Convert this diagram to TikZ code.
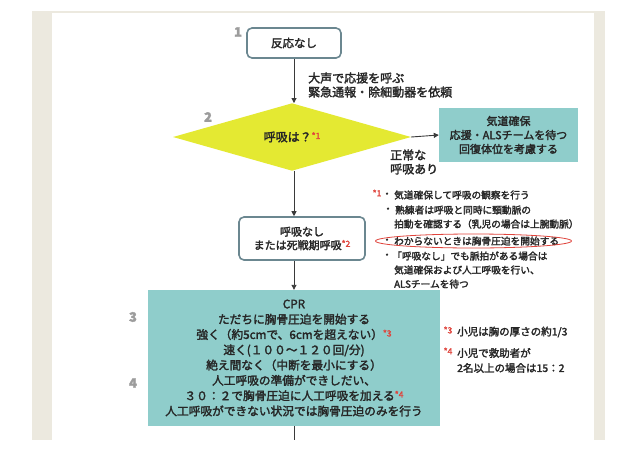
\documentclass[tikz,border=0pt]{standalone}
\usepackage{fontspec}
\setmainfont[FakeBold=2.2]{Noto Sans CJK JP}
\usetikzlibrary{arrows.meta,shapes.geometric}
\definecolor{txt}{HTML}{262626}
\definecolor{frameb}{HTML}{ECE9DF}
\definecolor{boxteal}{HTML}{8FCDCB}
\definecolor{yel}{HTML}{E4E932}
\definecolor{bord}{HTML}{6B8790}
\definecolor{numgray}{HTML}{9C9C9C}
\definecolor{notered}{HTML}{E0443C}
\definecolor{arr}{HTML}{3A3A3A}
\newcommand\mk[1]{\raisebox{2.5pt}{\textcolor{notered}{\fontsize{8.5}{8.5}\selectfont *#1}}}
\begin{document}
\begin{tikzpicture}[x=1pt,y=-1pt,
  rbox/.style={draw=bord, line width=1.6pt, rounded corners=5pt, fill=white, text=txt, align=center, inner sep=0pt},
  tbox/.style={fill=boxteal, text=txt, align=center, inner sep=0pt},
  conn/.style={draw=arr, line width=0.9pt, -{Triangle[width=5pt,length=5pt]}},
  plainline/.style={draw=arr, line width=0.9pt},
  num/.style={text=numgray, inner sep=0pt, font=\fontsize{13}{13}\selectfont\bfseries},
  note/.style={anchor=west, inner sep=0pt, text=txt, font=\fontsize{9.7}{10}\selectfont},
  bignote/.style={anchor=west, inner sep=0pt, text=txt, font=\fontsize{10.5}{11}\selectfont},
  bul/.style={inner sep=0pt, text=txt, font=\fontsize{9.7}{10}\selectfont},
  rmark/.style={inner sep=0pt, text=notered, font=\fontsize{8.5}{8.5}\selectfont}]
\useasboundingbox (0,0) rectangle (638,451);
\fill[white] (0,0) rectangle (638,451);
% frame
\fill[frameb] (32,11) rectangle (605,440);
\fill[white] (52,13) rectangle (594,440);

% step 1
\node[rbox, minimum width=94pt, minimum height=30pt, font=\fontsize{11.5}{12}\selectfont] (n1) at (294,43) {反応なし};
\node[num] (l1) at (238,32) {1};
\node[anchor=west, align=left, text=txt, inner sep=0pt, font=\fontsize{12}{14}\selectfont] (call) at (308,85) {大声で応援を呼ぶ\\緊急通報・除細動器を依頼};

% step 2 diamond
\node[diamond, fill=yel, minimum width=238pt, minimum height=60pt, inner sep=0pt, text=txt, font=\fontsize{12}{12}\selectfont] (d) at (292,137) {呼吸は？\mk{1}};
\node[num] (l2) at (208,117) {2};
\node[tbox, minimum width=139pt, minimum height=54pt, font=\fontsize{11}{14}\selectfont] (t) at (508.5,135) {気道確保\\応援・ALSチームを待つ\\回復体位を考慮する};
\node[anchor=west, align=left, text=txt, inner sep=0pt, font=\fontsize{12}{14}\selectfont] (norm) at (390,162) {正常な\\呼吸あり};

% no breathing box
\node[rbox, minimum width=126pt, minimum height=43pt, font=\fontsize{11}{13.5}\selectfont] (n2) at (302,238.5) {呼吸なし\\または死戦期呼吸\mk{2}};

% CPR box
\node[tbox, minimum width=292pt, minimum height=136pt, font=\fontsize{11.7}{15.3}\selectfont] (c) at (294,358) {CPR\\ただちに胸骨圧迫を開始する\\強く（約5cmで、6cmを超えない）\mk{3}\\速く(１００～１２０回/分)\\絶え間なく（中断を最小にする）\\人工呼吸の準備ができしだい、\\３０：２で胸骨圧迫に人工呼吸を加える\mk{4}\\人工呼吸ができない状況では胸骨圧迫のみを行う};
\node[num] (l3) at (133,317) {3};
\node[num] (l4) at (133,383) {4};
\coordinate (bot) at (294,440);

% connectors
\draw[conn] (n1.south) -- (n1.south |- d.north);
\draw[conn] (d.east) -- (t.west);
\draw[conn] (n1.south |- d.south) -- (n1.south |- n2.north);
\draw[conn] (n1.south |- n2.south) -- (c.north);
\draw[plainline] (c.south) -- (bot);

% notes *1
\node[rmark] (m1) at (377,193) {*1};
\node[bul] (b1) at (387,195) {・};
\node[note] (a1) at (394,195) {気道確保して呼吸の観察を行う};
\node[bul] (b2) at (388,210) {・};
\node[note] (a2) at (395,210) {熟練者は呼吸と同時に頸動脈の};
\node[note] (a3) at (394,224) {拍動を確認する（乳児の場合は上腕動脈）};
\node[bul] (b4) at (387,241) {・};
\node[note] (a4) at (394,241) {わからないときは胸骨圧迫を開始する};
\node[bul] (b5) at (387,256) {・};
\node[note] (a5) at (392,256) {「呼吸なし」でも脈拍がある場合は};
\node[note] (a6) at (394,270) {気道確保および人工呼吸を行い、};
\node[note] (a7) at (394,284) {ALSチームを待つ};
\draw[notered, line width=0.8pt] (473.5,241) ellipse [x radius=98pt, y radius=7pt];

% notes *3 *4
\node[rmark] (m3) at (448,330) {*3};
\node[bignote] (c3) at (457,332) {小児は胸の厚さの約1/3};
\node[rmark] (m4) at (448,351) {*4};
\node[bignote] (c4) at (457,353) {小児で救助者が};
\node[bignote] (c5) at (457,368) {2名以上の場合は15：2};
\end{tikzpicture}
\end{document}
